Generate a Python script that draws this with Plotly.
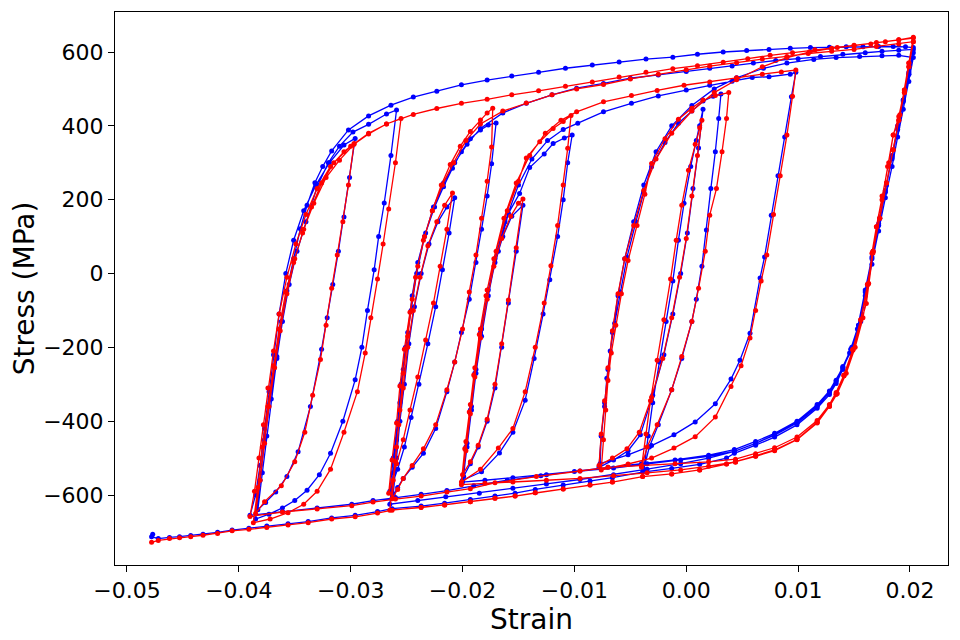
import plotly.graph_objects as go

# (strain, stress in MPa), in loading order
blue = [
    # unload from max strain down to -0.039
    (0.0203, 598), (0.0199, 540), (0.0194, 470), (0.0189, 400), (0.0184, 320), (0.0179, 240), (0.0173, 150),
    (0.0167, 60), (0.0162, -30), (0.0156, -130), (0.0149, -200), (0.0140, -255), (0.0128, -318), (0.0117, -355),
    (0.0099, -400), (0.0079, -433), (0.0062, -455), (0.0043, -477), (0.0020, -492), (-0.0010, -505),
    (-0.0040, -515), (-0.0070, -525), (-0.0100, -536), (-0.0130, -548), (-0.0160, -560), (-0.0190, -575),
    (-0.0214, -588), (-0.0237, -598), (-0.0260, -607), (-0.0280, -615), (-0.0299, -625), (-0.0330, -635),
    (-0.0361, -645), (-0.0390, -655),
    # small loop up to -0.0296
    (-0.0385, -600), (-0.0381, -520), (-0.0377, -420), (-0.0373, -320), (-0.0369, -220), (-0.0364, -110),
    (-0.0358, 0), (-0.0351, 90), (-0.0342, 170), (-0.0331, 240), (-0.0319, 300), (-0.0306, 348), (-0.0296, 366),
    (-0.0301, 260), (-0.0306, 153), (-0.0311, 60), (-0.0316, -30), (-0.0321, -120), (-0.0326, -205),
    (-0.0336, -360), (-0.0347, -483), (-0.0357, -550), (-0.0367, -592), (-0.0376, -620), (-0.0383, -640),
    # loop up to -0.0259
    (-0.0379, -540), (-0.0375, -440), (-0.0371, -340), (-0.0366, -230), (-0.0361, -130), (-0.0355, -30),
    (-0.0348, 60), (-0.0340, 140), (-0.0330, 235), (-0.0320, 300), (-0.0310, 345), (-0.0298, 383),
    (-0.0284, 404), (-0.0268, 432), (-0.0259, 443),
    (-0.0264, 320), (-0.0270, 191), (-0.0275, 100), (-0.0279, 10), (-0.0285, -100), (-0.0290, -200),
    (-0.0296, -288), (-0.0307, -400), (-0.0318, -487), (-0.0328, -545), (-0.0339, -587), (-0.0350, -615),
    (-0.0361, -635), (-0.0373, -652), (-0.0385, -665),
    # envelope up to 0.0203
    (-0.0381, -560), (-0.0377, -450), (-0.0372, -340), (-0.0366, -225), (-0.0362, -130), (-0.0357, -47),
    (-0.0351, 40), (-0.0345, 121), (-0.0339, 185), (-0.0332, 246), (-0.0325, 290), (-0.0317, 332),
    (-0.0302, 389), (-0.0284, 427), (-0.0264, 456), (-0.0244, 478), (-0.0223, 494), (-0.0201, 511),
    (-0.0178, 524), (-0.0156, 535), (-0.0132, 545), (-0.0108, 556), (-0.0084, 565), (-0.0060, 573),
    (-0.0036, 581), (-0.0012, 586), (0.0010, 594), (0.0033, 600), (0.0054, 604), (0.0074, 607), (0.0093, 610),
    (0.0111, 612), (0.0128, 613), (0.0143, 614), (0.0158, 614), (0.0172, 615), (0.0185, 615), (0.0196, 614),
    (0.0203, 612),
    # down to -0.0265
    (0.0199, 545), (0.0194, 470), (0.0189, 395), (0.0184, 315), (0.0178, 225), (0.0172, 135), (0.0166, 45),
    (0.0160, -45), (0.0154, -140), (0.0148, -200), (0.0140, -255), (0.0134, -292), (0.0128, -322),
    (0.0117, -360), (0.0099, -405), (0.0079, -438), (0.0062, -460), (0.0043, -482), (0.0020, -500),
    (-0.0005, -515), (-0.0035, -530), (-0.0065, -545), (-0.0095, -558), (-0.0125, -570), (-0.0155, -582),
    (-0.0185, -595), (-0.0215, -605), (-0.0240, -615), (-0.0265, -625),
    # loops from -0.0265
    (-0.0262, -540), (-0.0259, -450), (-0.0256, -350), (-0.0253, -260), (-0.0249, -160), (-0.0245, -60),
    (-0.0240, 30), (-0.0233, 110), (-0.0225, 180), (-0.0217, 235), (-0.0209, 285), (-0.0201, 330),
    (-0.0193, 365), (-0.0184, 389), (-0.0177, 402), (-0.0170, 408),
    (-0.0174, 297), (-0.0178, 210), (-0.0183, 120), (-0.0188, 30), (-0.0194, -70), (-0.0201, -160),
    (-0.0207, -240), (-0.0214, -320), (-0.0224, -420), (-0.0235, -487), (-0.0245, -525), (-0.0253, -555),
    (-0.0258, -580), (-0.0262, -600),
    (-0.0259, -500), (-0.0256, -400), (-0.0252, -300), (-0.0248, -190), (-0.0243, -90), (-0.0237, 0),
    (-0.0230, 80), (-0.0222, 140), (-0.0214, 180), (-0.0207, 205),
    (-0.0212, 110), (-0.0218, 10), (-0.0224, -90), (-0.0231, -190), (-0.0239, -300), (-0.0246, -390),
    (-0.0252, -470), (-0.0258, -530), (-0.0265, -590),
    (-0.0262, -500), (-0.0258, -400), (-0.0255, -300), (-0.0251, -200), (-0.0246, -100), (-0.0241, 0),
    (-0.0234, 100), (-0.0226, 180), (-0.0217, 245), (-0.0207, 300), (-0.0196, 350), (-0.0184, 393),
    (-0.0164, 435), (-0.0143, 461), (-0.0120, 484), (-0.0098, 502), (-0.0074, 515), (-0.0050, 529),
    (-0.0025, 538), (0.0000, 547), (0.0021, 556), (0.0041, 562), (0.0060, 570), (0.0080, 577), (0.0100, 582),
    (0.0120, 588), (0.0140, 594), (0.0160, 598), (0.0175, 602), (0.0190, 605), (0.0203, 607),
    # down to -0.0200
    (0.0199, 540), (0.0194, 465), (0.0189, 390), (0.0184, 310), (0.0178, 220), (0.0172, 130), (0.0166, 40),
    (0.0160, -50), (0.0153, -150), (0.0146, -215), (0.0140, -252), (0.0134, -289), (0.0128, -320),
    (0.0117, -359), (0.0099, -404), (0.0079, -437), (0.0062, -460), (0.0043, -482), (0.0020, -495),
    (-0.0005, -505), (-0.0035, -515), (-0.0065, -527), (-0.0095, -535), (-0.0125, -545), (-0.0155, -553),
    (-0.0180, -560), (-0.0200, -565),
    # loops from -0.0200
    (-0.0196, -470), (-0.0192, -370), (-0.0188, -270), (-0.0183, -170), (-0.0177, -60), (-0.0171, 30),
    (-0.0164, 100), (-0.0156, 155), (-0.0146, 185),
    (-0.0152, 60), (-0.0159, -80), (-0.0165, -200), (-0.0171, -310), (-0.0178, -400), (-0.0186, -470),
    (-0.0193, -515), (-0.0199, -550),
    (-0.0196, -460), (-0.0192, -360), (-0.0188, -260), (-0.0183, -150), (-0.0177, -45), (-0.0168, 60),
    (-0.0159, 163), (-0.0149, 217), (-0.0140, 287), (-0.0127, 324), (-0.0119, 352), (-0.0109, 367),
    (-0.0102, 375),
    (-0.0106, 300), (-0.0110, 200), (-0.0115, 100), (-0.0122, -17), (-0.0128, -110), (-0.0136, -230),
    (-0.0144, -343), (-0.0155, -430), (-0.0167, -486), (-0.0183, -537), (-0.0200, -560),
    (-0.0197, -470), (-0.0193, -370), (-0.0189, -270), (-0.0184, -160), (-0.0178, -60), (-0.0171, 40),
    (-0.0162, 140), (-0.0150, 240), (-0.0138, 310), (-0.0124, 360), (-0.0110, 390), (-0.0097, 407),
    (-0.0074, 438), (-0.0049, 461), (-0.0025, 481), (0.0000, 497), (0.0021, 510), (0.0041, 521),
    (0.0059, 531), (0.0074, 533), (0.0093, 540), (0.0098, 545),
    # down to -0.0077 and loops there
    (0.0094, 479), (0.0088, 370), (0.0082, 265), (0.0076, 158), (0.0070, 45), (0.0066, -12), (0.0057, -162),
    (0.0048, -235), (0.0040, -286), (0.0026, -353), (0.0008, -402), (-0.0011, -437), (-0.0031, -466),
    (-0.0052, -491), (-0.0077, -515),
    (-0.0076, -440), (-0.0073, -360), (-0.0071, -284), (-0.0068, -210), (-0.0064, -135), (-0.0059, -50),
    (-0.0053, 44), (-0.0045, 140), (-0.0038, 220), (-0.0031, 289), (-0.0019, 355), (-0.0007, 407),
    (0.0005, 440), (0.0015, 467), (0.0024, 480), (0.0031, 486),
    (0.0029, 420), (0.0026, 330), (0.0022, 230), (0.0018, 118), (0.0014, 20), (0.0009, -70), (0.0005, -130),
    (-0.0004, -230), (-0.0013, -315), (-0.0025, -410), (-0.0033, -470), (-0.0038, -530),
    (-0.0034, -440), (-0.0030, -350), (-0.0024, -240), (-0.0018, -130), (-0.0012, -20), (-0.0007, 90),
    (-0.0002, 190), (0.0004, 290), (0.0009, 360), (0.0012, 400), (0.0015, 445),
    (0.0011, 340), (0.0006, 230), (0.0001, 110), (-0.0005, 0), (-0.0012, -110), (-0.0020, -220),
    (-0.0030, -330), (-0.0041, -437), (-0.0052, -480), (-0.0065, -505), (-0.0078, -525),
    (-0.0076, -440), (-0.0073, -350), (-0.0070, -260), (-0.0066, -160), (-0.0061, -60), (-0.0055, 40),
    (-0.0047, 140), (-0.0038, 240), (-0.0027, 330), (-0.0013, 400), (0.0005, 455), (0.0025, 500),
    (0.0045, 530), (0.0069, 556), (0.0090, 570), (0.0114, 580), (0.0134, 585), (0.0155, 588), (0.0175, 590),
    (0.0190, 591), (0.0203, 585),
    # final unload to min strain
    (0.0199, 520), (0.0194, 445), (0.0189, 370), (0.0184, 290), (0.0178, 205), (0.0172, 115), (0.0166, 25),
    (0.0160, -60), (0.0154, -140), (0.0147, -205), (0.0140, -260), (0.0134, -298), (0.0128, -328),
    (0.0117, -365), (0.0099, -410), (0.0079, -443), (0.0062, -465), (0.0043, -487), (0.0036, -500),
    (0.0012, -517), (-0.0013, -528), (-0.0039, -538), (-0.0066, -553), (-0.0086, -562), (-0.0110, -573),
    (-0.0135, -585), (-0.0153, -595), (-0.0171, -603), (-0.0193, -612), (-0.0216, -622), (-0.0237, -630),
    (-0.0263, -637), (-0.0276, -645), (-0.0296, -655), (-0.0317, -662), (-0.0338, -672), (-0.0356, -678),
    (-0.0375, -684), (-0.0391, -690), (-0.0406, -695), (-0.0419, -701), (-0.0432, -706), (-0.0443, -710),
    (-0.0453, -713), (-0.0462, -715), (-0.0472, -718), (-0.0478, -713), (-0.0477, -706),
]

red = [
    (0.0203, 628), (0.0199, 560), (0.0195, 490), (0.0190, 415), (0.0185, 335), (0.0179, 245), (0.0173, 150),
    (0.0167, 60), (0.0162, -30), (0.0156, -125), (0.0149, -205), (0.0141, -275), (0.0134, -322),
    (0.0128, -355), (0.0117, -398), (0.0099, -443), (0.0079, -472), (0.0062, -488), (0.0044, -503),
    (0.0020, -510), (-0.0010, -515), (-0.0040, -520), (-0.0070, -525), (-0.0095, -535), (-0.0134, -550),
    (-0.0171, -567), (-0.0193, -583), (-0.0214, -592), (-0.0237, -603), (-0.0260, -611), (-0.0280, -619),
    (-0.0299, -629), (-0.0330, -638), (-0.0361, -646), (-0.0390, -658),
    (-0.0386, -590), (-0.0382, -500), (-0.0378, -410), (-0.0374, -310), (-0.0369, -210), (-0.0364, -110),
    (-0.0357, -10), (-0.0349, 80), (-0.0340, 160), (-0.0330, 230), (-0.0318, 290), (-0.0306, 330),
    (-0.0297, 352),
    (-0.0302, 240), (-0.0307, 140), (-0.0312, 50), (-0.0317, -40), (-0.0322, -140), (-0.0327, -233),
    (-0.0334, -330), (-0.0341, -430), (-0.0350, -510), (-0.0362, -575), (-0.0377, -618), (-0.0385, -650),
    (-0.0381, -560), (-0.0377, -460), (-0.0373, -360), (-0.0368, -255), (-0.0363, -155), (-0.0357, -55),
    (-0.0350, 40), (-0.0342, 120), (-0.0333, 190), (-0.0322, 260), (-0.0310, 307), (-0.0297, 350),
    (-0.0284, 378), (-0.0268, 405), (-0.0255, 420),
    (-0.0260, 300), (-0.0266, 175), (-0.0271, 80), (-0.0276, -15), (-0.0282, -120), (-0.0287, -215),
    (-0.0294, -320), (-0.0306, -430), (-0.0318, -530), (-0.0330, -590), (-0.0342, -625), (-0.0356, -648),
    (-0.0372, -665), (-0.0387, -675),
    (-0.0383, -580), (-0.0379, -470), (-0.0374, -360), (-0.0369, -250), (-0.0364, -150), (-0.0358, -50),
    (-0.0351, 30), (-0.0343, 110), (-0.0335, 180), (-0.0326, 245), (-0.0315, 300), (-0.0300, 345),
    (-0.0284, 380), (-0.0268, 405), (-0.0244, 431), (-0.0223, 447), (-0.0201, 461), (-0.0178, 472),
    (-0.0156, 484), (-0.0132, 495), (-0.0108, 507), (-0.0084, 519), (-0.0060, 532), (-0.0036, 545),
    (-0.0012, 555), (0.0010, 563), (0.0033, 572), (0.0055, 582), (0.0075, 591), (0.0095, 598),
    (0.0115, 606), (0.0135, 612), (0.0150, 617), (0.0165, 622), (0.0178, 628), (0.0190, 633), (0.0203, 640),
    (0.0199, 570), (0.0195, 497), (0.0190, 425), (0.0185, 375), (0.0181, 300), (0.0175, 210), (0.0170, 127),
    (0.0166, 55), (0.0163, -27), (0.0158, -120), (0.0151, -200), (0.0143, -270), (0.0135, -325),
    (0.0128, -360), (0.0117, -405), (0.0099, -450), (0.0079, -480), (0.0062, -495), (0.0044, -511),
    (0.0036, -516), (0.0012, -532), (-0.0013, -543), (-0.0039, -550), (-0.0066, -565), (-0.0086, -573),
    (-0.0110, -584), (-0.0135, -594), (-0.0153, -603), (-0.0171, -609), (-0.0193, -618), (-0.0216, -627),
    (-0.0237, -634), (-0.0265, -641),
    (-0.0262, -560), (-0.0259, -470), (-0.0256, -370), (-0.0253, -270), (-0.0249, -170), (-0.0245, -70),
    (-0.0240, 20), (-0.0234, 100), (-0.0227, 170), (-0.0219, 240), (-0.0211, 295), (-0.0202, 345),
    (-0.0193, 385), (-0.0184, 416), (-0.0178, 435), (-0.0173, 448),
    (-0.0174, 343), (-0.0178, 250), (-0.0183, 150), (-0.0188, 50), (-0.0194, -50), (-0.0200, -150),
    (-0.0207, -240), (-0.0214, -315), (-0.0224, -410), (-0.0235, -475), (-0.0245, -520), (-0.0253, -555),
    (-0.0258, -585), (-0.0263, -610),
    (-0.0260, -510), (-0.0257, -410), (-0.0253, -310), (-0.0249, -200), (-0.0244, -100), (-0.0238, -10),
    (-0.0231, 75), (-0.0223, 140), (-0.0216, 185), (-0.0209, 218),
    (-0.0214, 120), (-0.0220, 20), (-0.0226, -80), (-0.0233, -180), (-0.0240, -280), (-0.0247, -370),
    (-0.0253, -450), (-0.0259, -515), (-0.0266, -595),
    (-0.0263, -505), (-0.0259, -405), (-0.0256, -305), (-0.0252, -205), (-0.0247, -105), (-0.0242, -10),
    (-0.0235, 90), (-0.0227, 170), (-0.0218, 240), (-0.0208, 300), (-0.0197, 360), (-0.0184, 405),
    (-0.0164, 440), (-0.0143, 462), (-0.0120, 484), (-0.0098, 500), (-0.0074, 512), (-0.0050, 527),
    (-0.0025, 540), (0.0000, 552), (0.0021, 562), (0.0045, 571), (0.0068, 581), (0.0090, 588), (0.0109, 596),
    (0.0130, 602), (0.0150, 607), (0.0170, 615), (0.0190, 622), (0.0203, 628),
    (0.0199, 560), (0.0195, 490), (0.0190, 415), (0.0185, 335), (0.0179, 245), (0.0173, 150), (0.0167, 60),
    (0.0162, -30), (0.0156, -125), (0.0149, -207), (0.0141, -277), (0.0134, -327), (0.0128, -359),
    (0.0117, -403), (0.0099, -449), (0.0079, -478), (0.0062, -494), (0.0044, -510), (0.0020, -522),
    (-0.0005, -532), (-0.0035, -540), (-0.0065, -548), (-0.0095, -555), (-0.0125, -560), (-0.0155, -565),
    (-0.0180, -568), (-0.0201, -572),
    (-0.0197, -480), (-0.0193, -380), (-0.0189, -280), (-0.0184, -175), (-0.0178, -70), (-0.0172, 20),
    (-0.0165, 95), (-0.0157, 155), (-0.0150, 190), (-0.0146, 202),
    (-0.0152, 70), (-0.0159, -72), (-0.0165, -190), (-0.0171, -300), (-0.0178, -395), (-0.0186, -465),
    (-0.0193, -510), (-0.0200, -545),
    (-0.0197, -455), (-0.0193, -355), (-0.0189, -255), (-0.0184, -150), (-0.0178, -45), (-0.0170, 60),
    (-0.0160, 170), (-0.0150, 250), (-0.0143, 313), (-0.0131, 357), (-0.0119, 393), (-0.0110, 412),
    (-0.0103, 428),
    (-0.0106, 339), (-0.0110, 240), (-0.0115, 130), (-0.0121, 21), (-0.0127, -80), (-0.0135, -200),
    (-0.0144, -320), (-0.0155, -420), (-0.0168, -473), (-0.0184, -530), (-0.0201, -565),
    (-0.0198, -475), (-0.0194, -375), (-0.0190, -275), (-0.0185, -165), (-0.0179, -60), (-0.0172, 40),
    (-0.0163, 150), (-0.0152, 245), (-0.0140, 320), (-0.0126, 380), (-0.0112, 415), (-0.0098, 438),
    (-0.0074, 465), (-0.0049, 482), (-0.0026, 496), (-0.0002, 510), (0.0021, 519), (0.0045, 530),
    (0.0068, 540), (0.0085, 546), (0.0098, 551),
    (0.0095, 480), (0.0090, 375), (0.0084, 265), (0.0078, 160), (0.0072, 50), (0.0067, -20), (0.0062, -100),
    (0.0057, -175), (0.0049, -250), (0.0040, -306), (0.0026, -389), (0.0008, -442), (-0.0011, -473),
    (-0.0031, -500), (-0.0052, -516), (-0.0076, -532),
    (-0.0074, -450), (-0.0072, -370), (-0.0070, -290), (-0.0067, -215), (-0.0063, -140), (-0.0058, -55),
    (-0.0052, 35), (-0.0044, 130), (-0.0037, 215), (-0.0031, 298), (-0.0019, 365), (-0.0007, 418),
    (0.0005, 448), (0.0015, 470), (0.0026, 482), (0.0038, 490),
    (0.0036, 420), (0.0032, 330), (0.0027, 230), (0.0021, 158), (0.0017, 60), (0.0011, -40), (0.0005, -130),
    (-0.0004, -225), (-0.0013, -315), (-0.0026, -410), (-0.0035, -470), (-0.0040, -525),
    (-0.0036, -435), (-0.0032, -345), (-0.0026, -235), (-0.0020, -125), (-0.0014, -15), (-0.0009, 90),
    (-0.0004, 185), (0.0002, 280), (0.0008, 350), (0.0012, 395), (0.0014, 415),
    (0.0010, 320), (0.0005, 210), (0.0000, 95), (-0.0006, -10), (-0.0013, -120), (-0.0021, -230),
    (-0.0031, -335), (-0.0042, -430), (-0.0053, -475), (-0.0066, -500), (-0.0078, -520),
    (-0.0076, -435), (-0.0073, -345), (-0.0070, -255), (-0.0066, -155), (-0.0061, -55), (-0.0055, 40),
    (-0.0047, 130), (-0.0038, 225), (-0.0027, 310), (-0.0013, 380), (0.0005, 440), (0.0025, 490),
    (0.0045, 525), (0.0068, 560), (0.0090, 585), (0.0110, 600), (0.0130, 610), (0.0150, 618), (0.0170, 626),
    (0.0190, 633), (0.0203, 638),
    (0.0199, 570), (0.0195, 497), (0.0191, 430), (0.0185, 375), (0.0180, 290), (0.0175, 200), (0.0170, 127),
    (0.0167, 56), (0.0163, -27), (0.0161, -81), (0.0149, -207), (0.0141, -277), (0.0134, -327),
    (0.0128, -359), (0.0117, -403), (0.0099, -449), (0.0079, -478), (0.0062, -494), (0.0044, -510),
    (0.0036, -516), (0.0012, -532), (-0.0013, -543), (-0.0039, -550), (-0.0066, -565), (-0.0086, -573),
    (-0.0110, -584), (-0.0135, -594), (-0.0153, -603), (-0.0171, -609), (-0.0193, -618), (-0.0216, -627),
    (-0.0237, -634), (-0.0263, -641), (-0.0276, -649), (-0.0296, -659), (-0.0317, -665), (-0.0338, -675),
    (-0.0356, -681), (-0.0375, -688), (-0.0391, -693), (-0.0406, -697), (-0.0419, -704), (-0.0432, -709),
    (-0.0443, -713), (-0.0453, -716), (-0.0462, -718), (-0.0472, -723), (-0.0478, -728),
]

x_ticks = [-0.05, -0.04, -0.03, -0.02, -0.01, 0.00, 0.01, 0.02]
y_ticks = [-600, -400, -200, 0, 200, 400, 600]

fig = go.Figure()
for pts, col in [(blue, 'blue'), (red, 'red')]:
    xs, ys = zip(*pts)
    fig.add_trace(go.Scatter(
        x=xs, y=ys, mode='lines+markers',
        line=dict(color=col, width=1.3),
        marker=dict(color=col, size=5),
        showlegend=False))

axis_style = dict(
    showline=True, linecolor='black', linewidth=1, mirror=True,
    ticks='outside', ticklen=6, tickwidth=1, tickcolor='black',
    showgrid=False, zeroline=False, automargin=False,
    tickfont=dict(size=22, color='black'),
)

fig.update_xaxes(range=[-0.05107, 0.0234], tickvals=x_ticks, tickformat='.2f',
                 title=dict(text='Strain', font=dict(size=28, color='black'), standoff=2),
                 **axis_style)
fig.update_yaxes(range=[-789.6, 708.4], tickvals=y_ticks,
                 title=dict(text='Stress (MPa)', font=dict(size=28, color='black'), standoff=6),
                 **axis_style)

# page body adds ~8px offset, so the figure is slightly smaller than the window
fig.update_layout(
    width=952, height=632,
    margin=dict(l=107, r=12, t=4, b=75),
    plot_bgcolor='white', paper_bgcolor='white',
    font=dict(family='DejaVu Sans', color='black'),
)

fig.write_html("out.html")
